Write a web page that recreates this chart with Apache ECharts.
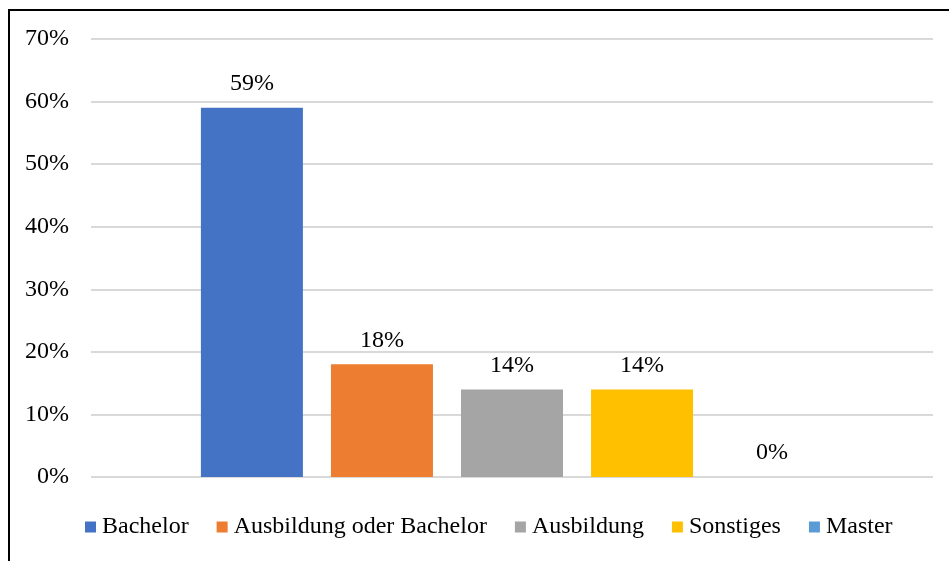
<!DOCTYPE html>
<html>
<head>
<meta charset="utf-8">
<script src="https://cdn.jsdelivr.net/npm/echarts@6/dist/echarts.min.js"></script>
<style>
  html, body { margin: 0; padding: 0; background: #fff; }
  #main { position: absolute; left: 0; top: 0; width: 949px; height: 561px; }
  #frame { position: absolute; left: 8px; top: 9px; width: 1000px; height: 600px;
           border-left: 2px solid #000; border-top: 2px solid #000; pointer-events: none; }
</style>
</head>
<body>
<div id="main"></div>
<div id="frame"></div>
<script>
  // Daten
  var seriesNames = ['Bachelor', 'Ausbildung oder Bachelor', 'Ausbildung', 'Sonstiges', 'Master'];
  var seriesValues = [59, 18, 14, 14, 0];
  var seriesColors = ['#4472C4', '#ED7D31', '#A5A5A5', '#FFC000', '#5B9BD5'];
  var categories = [''];

  var font = 'Liberation Serif, Times New Roman, serif';

  var series = seriesNames.map(function (name, i) {
    return {
      name: name,
      type: 'bar',
      data: [seriesValues[i]],
      barWidth: 102,
      barGap: '27.5%',
      itemStyle: { color: seriesColors[i] },
      label: {
        show: true,
        position: 'top',
        distance: 12,
        formatter: '{c}%',
        color: '#000',
        fontFamily: font,
        fontSize: 24
      }
    };
  });

  var myChart = echarts.init(document.getElementById('main'));
  var option = {
    animation: false,
    grid: { left: 91, right: 16, top: 39, bottom: 84 },
    legend: {
      data: seriesNames,
      left: 85,
      top: 515,
      padding: 0,
      icon: 'rect',
      itemWidth: 11,
      itemHeight: 11,
      itemGap: 28,
      textStyle: { fontFamily: font, fontSize: 24, color: '#000', padding: [0, 0, 0, 1] }
    },
    xAxis: {
      type: 'category',
      data: categories,
      axisLine: { show: false },
      axisTick: { show: false },
      axisLabel: { show: false }
    },
    yAxis: {
      type: 'value',
      min: 0,
      max: 70,
      interval: 10,
      axisLabel: {
        formatter: '{value}%',
        fontFamily: font,
        fontSize: 24,
        color: '#000',
        margin: 22
      },
      splitLine: { lineStyle: { color: '#D9D9D9', width: 2 } }
    },
    series: series
  };
  myChart.setOption(option);
</script>
</body>
</html>
